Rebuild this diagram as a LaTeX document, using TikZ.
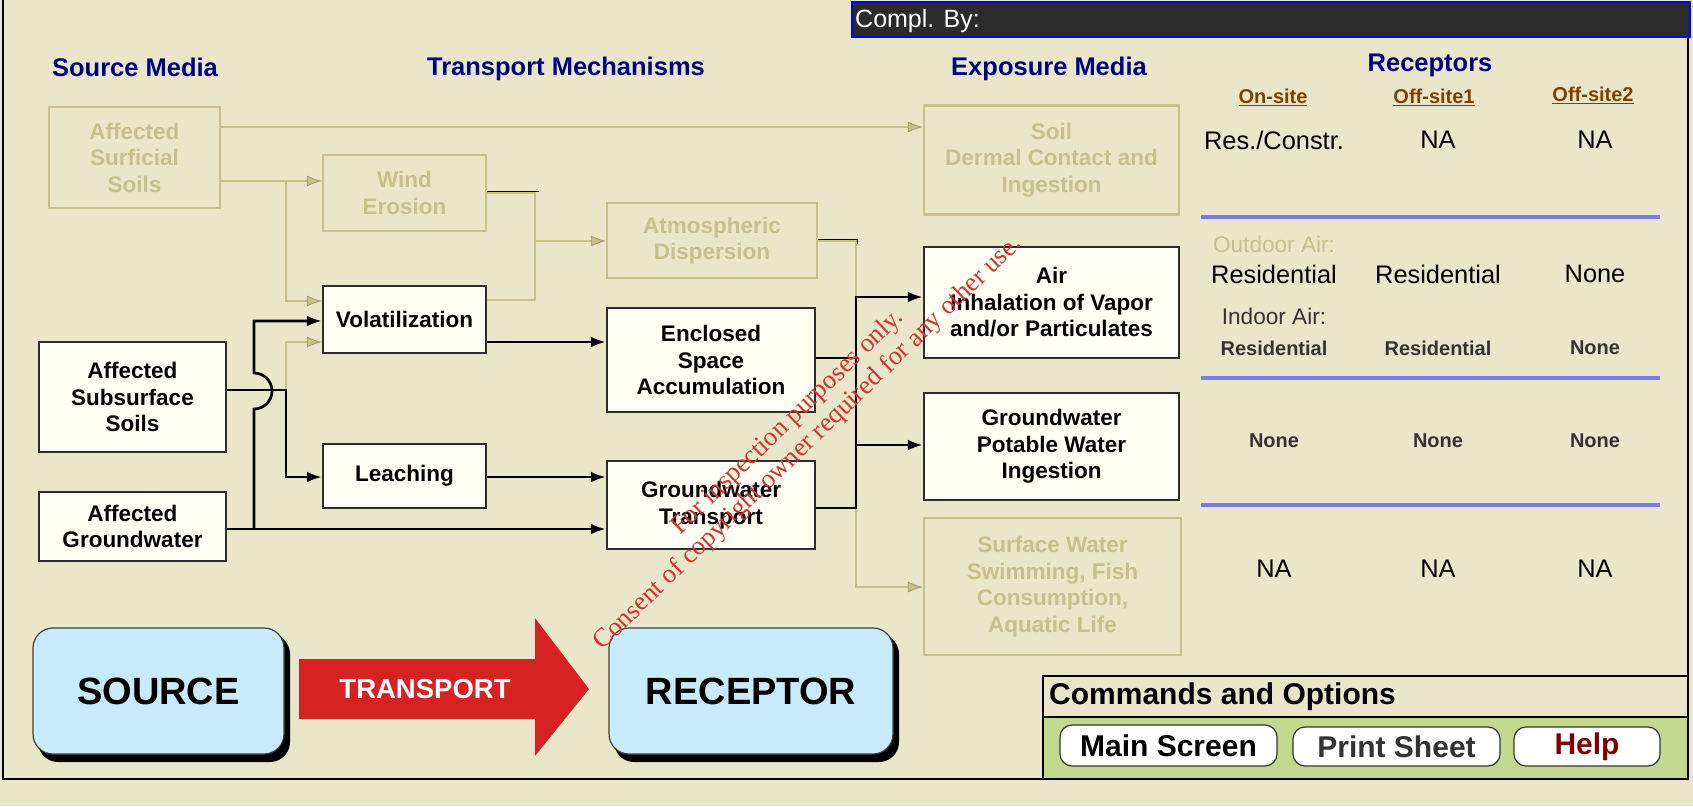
\documentclass[tikz,border=0pt]{standalone}
\usepackage{fontspec}
\setmainfont{Liberation Sans}
\newfontfamily\wmfont{Liberation Serif}
\usetikzlibrary{arrows.meta}
\newcommand\fsz[2]{\fontsize{#1}{#2}\selectfont}
\definecolor{bgc}{RGB}{233,230,202}
\definecolor{tanc}{RGB}{200,192,138}
\definecolor{boxfill}{RGB}{255,255,243}
\definecolor{boxline}{RGB}{45,45,45}
\definecolor{navyc}{RGB}{0,0,128}
\definecolor{brownc}{RGB}{128,64,0}
\definecolor{bluel}{RGB}{122,122,240}
\definecolor{greenc}{RGB}{194,216,140}
\definecolor{skyc}{RGB}{200,234,250}
\definecolor{redc}{RGB}{214,34,34}
\definecolor{wmc}{RGB}{212,52,46}
\definecolor{darkg}{RGB}{51,51,51}
\definecolor{helpc}{RGB}{128,0,0}
\definecolor{barc}{RGB}{43,43,43}
\begin{document}
\begin{tikzpicture}[x=1pt,y=-1pt,
  box/.style={draw=boxline, fill=boxfill, line width=2.5pt, align=center, font=\bfseries\fsz{22.5}{26.5}, inner sep=0pt},
  fbox/.style={draw=tanc, line width=2.5pt, align=center, text=tanc, font=\bfseries\fsz{22.5}{26.5}, inner sep=0pt},
  hdr/.style={text=navyc, font=\bfseries\fsz{25.5}{30}, inner sep=0pt, anchor=base},
  colh/.style={text=brownc, font=\bfseries\fsz{20}{24}, inner sep=0pt},
  cellr/.style={font=\fsz{25.4}{28}, inner sep=0pt},
  cellb/.style={text=darkg, font=\bfseries\fsz{20}{24}, inner sep=0pt},
  lbl/.style={font=\fsz{22.6}{26}, inner sep=0pt},
  bln/.style={draw=black, line width=2.7pt},
  barr/.style={bln, -{Latex[length=15pt,width=11pt]}},
  tln/.style={draw=tanc, line width=2.7pt},
  tarr/.style={tln, -{Latex[length=15pt,width=11pt,line width=0.8pt,fill=tanc,color=tanc!80!black]}},
  thinb/.style={draw=black, line width=0.9pt},
  sepl/.style={draw=bluel, line width=3.5pt},
  btn/.style={draw=black!80, fill=white, rounded corners=12pt, line width=1.2pt, font=\bfseries\fsz{30}{33}, inner sep=0pt},
  bigbox/.style={draw=black!75, fill=skyc, rounded corners=20pt, line width=1.2pt, font=\bfseries\fsz{38}{42}, inner sep=0pt}
]
\fill[bgc] (0,0) rectangle (1693,806);
\useasboundingbox (0,0) rectangle (1693,806);
% outer frame
\draw[line width=1.5pt] (3,0) -- (3,779) -- (1688,779) -- (1688,36);
% title bar
\node[draw=blue, fill=barc, line width=2pt, minimum width=838pt, minimum height=35pt, inner sep=0pt, anchor=north west] (bar) at (851,1) {};
\node[anchor=base west, text=white, font=\fsz{25}{28}, inner sep=0pt] (compl) at (855,27) {Compl. By:};

% headers
\node[hdr] (hsrc) at (135,76) {Source Media};
\node[hdr] (htr) at (566,75) {Transport Mechanisms};
\node[hdr] (hexp) at (1049,75) {Exposure Media};
\node[hdr] (hrec) at (1430,71) {Receptors};

% boxes
\node[fbox, minimum width=171pt, minimum height=101pt] (surf) at (134.5,157.5) {Affected\\Surficial\\Soils};
\node[fbox, minimum width=163pt, minimum height=76pt] (wind) at (404.5,193) {Wind\\Erosion};
\node[box, minimum width=163pt, minimum height=67pt] (vol) at (404.5,319.5) {Volatilization};
\node[box, minimum width=187pt, minimum height=110pt] (subs) at (132.5,397) {Affected\\Subsurface\\Soils};
\node[box, minimum width=163pt, minimum height=64pt] (leach) at (404.5,476) {Leaching};
\node[box, minimum width=187pt, minimum height=69pt] (gw) at (132.5,526.5) {Affected\\Groundwater};
\node[fbox, minimum width=210pt, minimum height=75pt] (atm) at (712,240.5) {Atmospheric\\Dispersion};
\node[box, minimum width=208pt, minimum height=104pt] (enc) at (711,360) {Enclosed\\Space\\Accumulation};
\node[box, minimum width=208pt, minimum height=88pt] (gwt) at (711,505) {Groundwater\\Transport};
\node[fbox, minimum width=255pt, minimum height=109pt] (soil) at (1051.5,160) {Soil\\Dermal Contact and\\Ingestion};
\node[box, minimum width=255pt, minimum height=111pt] (air) at (1051.5,302.5) {Air\\Inhalation of Vapor\\and/or Particulates};
\node[box, minimum width=255pt, minimum height=107pt] (gwp) at (1051.5,446.5) {Groundwater\\Potable Water\\Ingestion};
\node[fbox, minimum width=257pt, minimum height=137pt] (sw) at (1052.5,586.5) {Surface Water\\Swimming, Fish\\Consumption,\\Aquatic Life};

% levels
\coordinate (ySoil) at (0,127);
\coordinate (yWind) at (0,181);
\coordinate (xJ1) at (286,0);
\coordinate (yVolA) at (0,301);
\coordinate (yVolB) at (0,321);
\coordinate (yVolC) at (0,342);
\coordinate (ySub) at (0,390);
\coordinate (yLeach) at (0,477);
\coordinate (yGW) at (0,529);
\coordinate (xGW) at (254,0);
\coordinate (yWindR) at (0,193);
\coordinate (yVolR) at (0,300);
\coordinate (xJ2) at (535,0);
\coordinate (yAtm) at (0,241);
\coordinate (xJ3) at (856,0);
\coordinate (yEnc) at (0,358);
\coordinate (yGWT) at (0,508);
\coordinate (yAir) at (0,297);
\coordinate (yGWP) at (0,445);
\coordinate (ySW) at (0,587);

% tan connectors
\draw[tarr] (surf.east |- ySoil) -- (soil.west |- ySoil);
\draw[tarr] (surf.east |- yWind) -- (wind.west |- yWind);
\draw[tarr] (xJ1 |- yWind) |- (vol.west |- yVolA);
\draw[tarr] (xJ1 |- ySub) |- (vol.west |- yVolC);
\draw[tln] (wind.east |- yWindR) -| (xJ2 |- yVolR) -- (vol.east |- yVolR);
\draw[tarr] (xJ2 |- yAtm) -- (atm.west |- yAtm);
\draw[tarr] (atm.east |- yAtm) -| (xJ3 |- ySW) -- (sw.west |- ySW);
\draw[thinb] (wind.east |- 0,191) -- (539,191);
\draw[thinb] (atm.east |- 0,239) -- (857,239) -- (857,244);

% black connectors
\draw[barr] (subs.east |- ySub) -| (xJ1 |- yLeach) -- (leach.west |- yLeach);
\draw[barr] (gw.east |- yGW) -- (gwt.west |- yGW);
\draw[barr] (xGW |- yGW) -- ++(0,-120) arc[start angle=90, end angle=-90, radius=18] |- (vol.west |- yVolB);
\draw[barr] (vol.east |- yVolC) -- (enc.west |- yVolC);
\draw[barr] (leach.east |- yLeach) -- (gwt.west |- yLeach);
\draw[bln] (enc.east |- yEnc) -- (xJ3 |- yEnc);
\draw[barr] (gwt.east |- yGWT) -| (xJ3 |- yAir) -- (air.west |- yAir);
\draw[barr] (xJ3 |- yGWP) -- (gwp.west |- yGWP);

% receptors table
\node[colh] (c1) at (1273,97) {\underline{On-site}};
\node[colh] (c2) at (1434,97) {\underline{Off-site1}};
\node[colh] (c3) at (1593,95) {\underline{Off-site2}};
\node[cellr] (r1a) at (1274,140) {Res./Constr.};
\node[cellr] (r1b) at (1438,140) {NA};
\node[cellr] (r1c) at (1595,140) {NA};
\draw[sepl] (1201,217) -- (1660,217);
\node[lbl, text=tanc] (outd) at (1274,244) {Outdoor Air:};
\node[cellr] (r2a) at (1274,274) {Residential};
\node[cellr] (r2b) at (1438,274) {Residential};
\node[cellr] (r2c) at (1595,274) {None};
\node[lbl, text=darkg] (ind) at (1274,316) {Indoor Air:};
\node[cellb] (r3a) at (1274,348) {Residential};
\node[cellb] (r3b) at (1438,348) {Residential};
\node[cellb] (r3c) at (1595,348) {None};
\draw[sepl] (1201,378) -- (1660,378);
\node[cellb] (r4a) at (1274,441) {None};
\node[cellb] (r4b) at (1438,441) {None};
\node[cellb] (r4c) at (1595,441) {None};
\draw[sepl] (1201,505) -- (1660,505);
\node[cellr] (r5a) at (1274,569) {NA};
\node[cellr] (r5b) at (1438,569) {NA};
\node[cellr] (r5c) at (1595,569) {NA};

% commands panel
\fill[greenc] (1043,717) rectangle (1688,779);
\draw[line width=1.5pt] (1043,676) rectangle (1688,779);
\draw[line width=1.5pt] (1043,717) -- (1688,717);
\node[anchor=west, font=\bfseries\fsz{30}{33}, inner sep=0pt] (cmd) at (1049,697) {Commands and Options};
\node[btn, minimum width=217pt, minimum height=41pt] (bmain) at (1168.5,745.5) {Main Screen};
\node[btn, minimum width=207pt, minimum height=39pt, text=darkg] (bprint) at (1396.5,746.5) {Print Sheet};
\node[btn, minimum width=146pt, minimum height=39pt, text=helpc] (bhelp) at (1587,746.5) {Help};

% source - transport - receptor
\fill[black, rounded corners=20pt] (38,634) rectangle (290,762);
\node[bigbox, minimum width=251pt, minimum height=126pt] (src) at (158.5,691) {SOURCE};
\fill[black, rounded corners=20pt] (614,634) rectangle (899,762);
\node[bigbox, minimum width=284pt, minimum height=126pt] (rcp) at (751,691) {RECEPTOR};
\fill[redc] (299,659) -- (535,659) -- (535,618) -- (589,689) -- (535,756) -- (535,719) -- (299,719) -- cycle;
\node[text=white, font=\bfseries\fsz{27.5}{30}, inner sep=0pt] (trn) at (425,689) {TRANSPORT};

% watermark
\node[rotate=44, text=wmc, font=\wmfont\fsz{26.5}{29}, align=center, inner sep=0pt] (wm) at (798,433) {For inspection purposes only.\\Consent of copyright owner required for any other use.};
\end{tikzpicture}
\end{document}
